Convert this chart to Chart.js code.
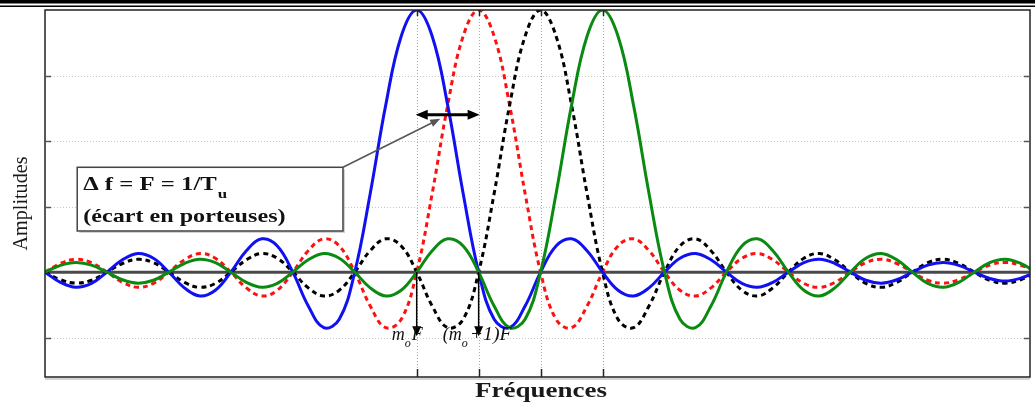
<!DOCTYPE html>
<html>
<head>
<meta charset="utf-8">
<script src="https://cdn.jsdelivr.net/npm/chart.js@4/dist/chart.umd.min.js"></script>
<style>
  html, body { margin: 0; padding: 0; background: #fff; }
  canvas { display: block; }
</style>
</head>
<body>
<canvas id="ofdmChart" width="1035" height="406"></canvas>
<script>
// frequency axis, in units of the carrier spacing F (blue carrier at 0)
const freqs = [-6, -5.75, -5.5, -5.25, -5, -4.75, -4.5, -4.25, -4, -3.75, -3.5, -3.25, -3, -2.75, -2.5, -2.25,
    -2, -1.75, -1.5, -1.25, -1, -0.75, -0.5, -0.25, 0, 0.25, 0.5, 0.75, 1, 1.25, 1.5, 1.75,
    2, 2.25, 2.5, 2.75, 3, 3.25, 3.5, 3.75, 4, 4.25, 4.5, 4.75, 5, 5.25, 5.5, 5.75,
    6, 6.25, 6.5, 6.75, 7, 7.25, 7.5, 7.75, 8, 8.25, 8.5, 8.75, 9, 9.25, 9.5, 9.75, 10];

const blueCarrier = [0, -0.039, -0.058, -0.043, 0, 0.047, 0.071, 0.053, 0, -0.060, -0.091, -0.069, 0, 0.082, 0.127, 0.100,
    0, -0.129, -0.212, -0.180, 0, 0.300, 0.637, 0.900, 1,
    0.900, 0.637, 0.300, 0, -0.180, -0.212, -0.129, 0, 0.100, 0.127, 0.082, 0, -0.069, -0.091, -0.060,
    0, 0.053, 0.071, 0.047, 0, -0.043, -0.058, -0.039, 0, 0.036, 0.049, 0.033, 0, -0.031, -0.042, -0.029,
    0, 0.027, 0.037, 0.026, 0, -0.024, -0.034, -0.023, 0];

const redCarrier = [0, 0.033, 0.049, 0.036, 0, -0.039, -0.058, -0.043, 0, 0.047, 0.071, 0.053, 0, -0.060, -0.091, -0.069,
    0, 0.082, 0.127, 0.100, 0, -0.129, -0.212, -0.180, 0, 0.300, 0.637, 0.900, 1,
    0.900, 0.637, 0.300, 0, -0.180, -0.212, -0.129, 0, 0.100, 0.127, 0.082, 0, -0.069, -0.091, -0.060,
    0, 0.053, 0.071, 0.047, 0, -0.043, -0.058, -0.039, 0, 0.036, 0.049, 0.033, 0, -0.031, -0.042, -0.029,
    0, 0.027, 0.037, 0.026, 0];

const blackCarrier = [0, -0.029, -0.042, -0.031, 0, 0.033, 0.049, 0.036, 0, -0.039, -0.058, -0.043, 0, 0.047, 0.071, 0.053,
    0, -0.060, -0.091, -0.069, 0, 0.082, 0.127, 0.100, 0, -0.129, -0.212, -0.180, 0, 0.300, 0.637, 0.900, 1,
    0.900, 0.637, 0.300, 0, -0.180, -0.212, -0.129, 0, 0.100, 0.127, 0.082, 0, -0.069, -0.091, -0.060,
    0, 0.053, 0.071, 0.047, 0, -0.043, -0.058, -0.039, 0, 0.036, 0.049, 0.033, 0, -0.031, -0.042, -0.029, 0];

const greenCarrier = [0, 0.026, 0.037, 0.027, 0, -0.029, -0.042, -0.031, 0, 0.033, 0.049, 0.036, 0, -0.039, -0.058, -0.043,
    0, 0.047, 0.071, 0.053, 0, -0.060, -0.091, -0.069, 0, 0.082, 0.127, 0.100, 0, -0.129, -0.212, -0.180,
    0, 0.300, 0.637, 0.900, 1,
    0.900, 0.637, 0.300, 0, -0.180, -0.212, -0.129, 0, 0.100, 0.127, 0.082, 0, -0.069, -0.091, -0.060,
    0, 0.053, 0.071, 0.047, 0, -0.043, -0.058, -0.039, 0, 0.036, 0.049, 0.033, 0];

const xTicks = [0, 1, 2, 3];
const yTicks = [-0.25, 0, 0.25, 0.5, 0.75, 1];

const SERIF = '"Liberation Serif", "DejaVu Serif", serif';

function toPoints(values) {
    return freqs.map((f, i) => ({ x: f, y: values[i] }));
}

function seg(ctx, x1, y1, x2, y2) {
    ctx.beginPath();
    ctx.moveTo(x1, y1);
    ctx.lineTo(x2, y2);
    ctx.stroke();
}

function arrowHead(ctx, tipX, tipY, fromX, fromY, len, half) {
    const ang = Math.atan2(tipY - fromY, tipX - fromX);
    ctx.beginPath();
    ctx.moveTo(tipX, tipY);
    ctx.lineTo(tipX - len * Math.cos(ang) + half * Math.sin(ang), tipY - len * Math.sin(ang) - half * Math.cos(ang));
    ctx.lineTo(tipX - len * Math.cos(ang) - half * Math.sin(ang), tipY - len * Math.sin(ang) + half * Math.cos(ang));
    ctx.closePath();
    ctx.fill();
}

// draws text stretched horizontally, returns the drawn width
function wideText(ctx, txt, x, y, font, stretch) {
    ctx.save();
    ctx.font = font;
    const w = ctx.measureText(txt).width;
    ctx.translate(x, y);
    ctx.scale(stretch, 1);
    ctx.fillText(txt, 0, 0);
    ctx.restore();
    return w * stretch;
}

const overlay = {
    id: "overlay",
    beforeDraw(chart) {
        const ctx = chart.ctx;
        ctx.save();
        ctx.fillStyle = "#000";
        ctx.fillRect(0, 0, chart.width, 3.5);
        ctx.fillRect(0, 5.5, chart.width, 1.5);
        ctx.restore();
    },
    beforeDatasetsDraw(chart) {
        const { ctx, chartArea: a, scales: { x, y } } = chart;
        ctx.save();
        ctx.lineWidth = 1;
        ctx.setLineDash([1, 2]);
        ctx.strokeStyle = "#c8c8c8";
        yTicks.forEach((v) => {
            if (v === 0 || v === 1) return;
            const py = Math.round(y.getPixelForValue(v)) + 0.5;
            seg(ctx, a.left, py, a.right, py);
        });
        ctx.strokeStyle = "#a8a8a8";
        xTicks.forEach((v) => {
            const px = Math.round(x.getPixelForValue(v)) + 0.5;
            seg(ctx, px, a.top, px, a.bottom);
        });
        ctx.setLineDash([]);
        ctx.strokeStyle = "#4a4a4a";
        ctx.lineWidth = 3;
        const y0 = y.getPixelForValue(0);
        seg(ctx, a.left, y0, a.right, y0);
        ctx.restore();
    },
    afterDatasetsDraw(chart) {
        const { ctx, chartArea: a, scales: { x, y } } = chart;
        ctx.save();

        // frame
        ctx.strokeStyle = "#aaa";
        ctx.lineWidth = 1;
        seg(ctx, a.left, a.bottom + 2, a.right, a.bottom + 2);
        ctx.strokeStyle = "#222";
        ctx.lineWidth = 1.5;
        ctx.strokeRect(a.left, a.top, a.right - a.left, a.bottom - a.top);

        // tick marks
        ctx.strokeStyle = "#555";
        yTicks.forEach((v) => {
            if (v === 0 || v === 1) return;
            const py = Math.round(y.getPixelForValue(v)) + 0.5;
            seg(ctx, a.left, py, a.left + 6, py);
            seg(ctx, a.right - 6, py, a.right, py);
        });
        ctx.strokeStyle = "#222";
        xTicks.forEach((v) => {
            const px = Math.round(x.getPixelForValue(v)) + 0.5;
            seg(ctx, px, a.bottom, px, a.bottom - 8);
            seg(ctx, px, a.top, px, a.top + 6);
        });

        // double arrow between the two first carriers
        ctx.strokeStyle = "#000";
        ctx.fillStyle = "#000";
        const xa = x.getPixelForValue(0), xb = x.getPixelForValue(1);
        const ya = y.getPixelForValue(0.6);
        ctx.lineWidth = 3;
        seg(ctx, xa + 8, ya, xb - 8, ya);
        arrowHead(ctx, xa - 1, ya, xb, ya, 12, 5);
        arrowHead(ctx, xb + 1, ya, xa, ya, 12, 5);

        // vertical arrows to m0F and (m0+1)F
        const yz = y.getPixelForValue(0);
        const yArrow = y.getPixelForValue(-0.245);
        ctx.lineWidth = 1.5;
        [xa, xb].forEach((px) => {
            seg(ctx, px, yz, px, yArrow - 6);
            arrowHead(ctx, px, yArrow, px, yz, 10, 4.5);
        });

        // annotation box
        const bx1 = x.getPixelForValue(-5.48), bx2 = x.getPixelForValue(-1.19);
        const by1 = y.getPixelForValue(0.40), by2 = y.getPixelForValue(0.157);
        ctx.fillStyle = "rgba(0,0,0,0.18)";
        ctx.fillRect(bx1 + 2, by1 + 2, bx2 - bx1, by2 - by1);
        ctx.fillStyle = "#fff";
        ctx.fillRect(bx1, by1, bx2 - bx1, by2 - by1);
        ctx.strokeStyle = "#444";
        ctx.lineWidth = 1.5;
        ctx.strokeRect(bx1, by1, bx2 - bx1, by2 - by1);

        // connector from the box to the double arrow
        ctx.strokeStyle = "#555";
        ctx.fillStyle = "#555";
        ctx.lineWidth = 1.5;
        const tipX = x.getPixelForValue(0.38), tipY = y.getPixelForValue(0.585);
        seg(ctx, bx2, by1, tipX - 6, tipY + 3);
        arrowHead(ctx, tipX, tipY, bx2, by1, 10, 4);

        ctx.fillStyle = "#111";
        ctx.textBaseline = "alphabetic";
        const boxFont = "bold 19px " + SERIF;
        const w1 = wideText(ctx, "\u0394 f = F = 1/T", bx1 + 6, by1 + 23, boxFont, 1.3);
        wideText(ctx, "u", bx1 + 6 + w1 + 1, by1 + 31, "bold 13px " + SERIF, 1.3);
        wideText(ctx, "(\u00e9cart en porteuses)", bx1 + 6, by1 + 55, boxFont, 1.27);

        // carrier labels
        ctx.fillStyle = "#111";
        const itF = "italic 18px " + SERIF, itS = "italic 12px " + SERIF;
        const yl = y.getPixelForValue(-0.26);
        let cx = xa - 25;
        cx += wideText(ctx, "m", cx, yl, itF, 1.0);
        cx += wideText(ctx, "o", cx, yl + 7, itS, 1.0);
        wideText(ctx, "F", cx + 1, yl, itF, 1.0);
        cx = xb - 36;
        cx += wideText(ctx, "(m", cx, yl, itF, 1.0);
        cx += wideText(ctx, "o", cx, yl + 7, itS, 1.0);
        wideText(ctx, "+1)F", cx + 2, yl, itF, 1.1);

        ctx.restore();
    },
    afterDraw(chart) {
        const { ctx, chartArea: a } = chart;
        ctx.save();
        ctx.fillStyle = "#1a1a1a";
        // x title
        ctx.font = "bold 21px " + SERIF;
        const fw = ctx.measureText("Fr\u00e9quences").width;
        wideText(ctx, "Fr\u00e9quences", 541 - 66, a.bottom + 20, "bold 21px " + SERIF, 132 / fw);
        // y title
        ctx.translate(27, (a.top + a.bottom) / 2 + 10);
        ctx.rotate(-Math.PI / 2);
        ctx.font = "21px " + SERIF;
        const aw = ctx.measureText("Amplitudes").width;
        ctx.scale(94 / aw, 1);
        ctx.fillText("Amplitudes", -aw / 2, 0);
        ctx.restore();
    }
};

const lineBase = { pointRadius: 0, borderWidth: 3, tension: 0.4, fill: false };

new Chart(document.getElementById("ofdmChart").getContext("2d"), {
    type: "line",
    data: {
        datasets: [
            { ...lineBase, label: "m0+3", data: toPoints(greenCarrier), borderColor: "#0b8a12" },
            { ...lineBase, label: "m0", data: toPoints(blueCarrier), borderColor: "#1010f0" },
            { ...lineBase, label: "m0+2", data: toPoints(blackCarrier), borderColor: "#000", borderDash: [5, 4] },
            { ...lineBase, label: "m0+1", data: toPoints(redCarrier), borderColor: "#ff1010", borderDash: [5, 4] },
        ],
    },
    options: {
        responsive: false,
        animation: false,
        layout: { padding: { left: 45, right: 5, top: 10, bottom: 29 } },
        plugins: { legend: { display: false }, tooltip: { enabled: false } },
        scales: {
            x: { type: "linear", min: -6, max: 9.9, display: false },
            y: { type: "linear", min: -0.4, max: 1.0, display: false },
        },
    },
    plugins: [overlay],
});
</script>
</body>
</html>
